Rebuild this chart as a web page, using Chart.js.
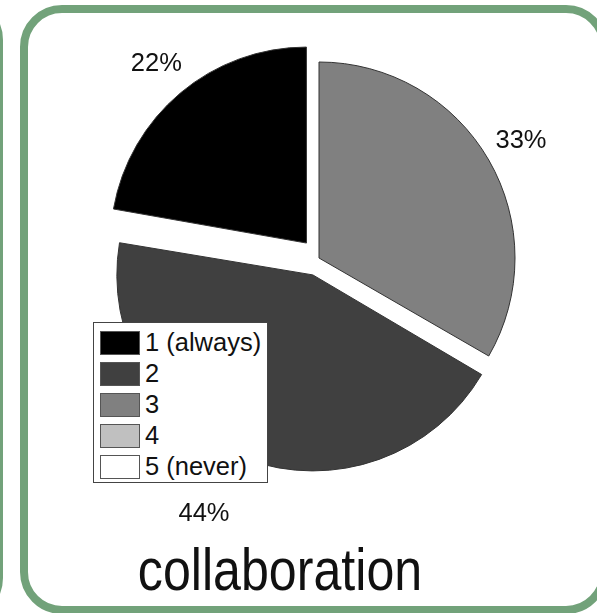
<!DOCTYPE html>
<html>
<head>
<meta charset="utf-8">
<script src="https://cdn.jsdelivr.net/npm/chart.js@4.4.1/dist/chart.umd.min.js"></script>
<style>
  html, body { margin: 0; padding: 0; background: #fff; }
  body { width: 597px; height: 613px; position: relative; overflow: hidden;
         font-family: "Liberation Sans", Arial, sans-serif; }
  .frame { position: absolute; box-sizing: border-box; border: 8px solid #72a27a;
           border-radius: 42px; background: #fff; }
  #mainFrame { left: 20px; top: 5px; width: 588px; height: 609px; }
  #sideFrame { left: -400px; top: -2px; width: 403px; height: 622px; border-width: 4px; }
  #myChart { position: absolute; left: 0; top: 0; }
  #legend { position: absolute; left: 93px; top: 322px; width: 175px; height: 161px;
            box-sizing: border-box; border: 1px solid #444; background: #fff;
            padding: 4px 0 0 6px; }
  .row { height: 31px; display: flex; align-items: center; font-size: 25.5px; color: #111; }
  .swatch { width: 38px; height: 22px; border: 1px solid #555; margin-right: 5px; flex: none; }
  #title { position: absolute; left: 0; width: 560px; top: 541px; text-align: center;
           font-size: 59px; line-height: 59px; color: #111;
           transform: scaleX(0.85); transform-origin: 280px 0; }
</style>
</head>
<body>
<div class="frame" id="sideFrame"></div>
<div class="frame" id="mainFrame"></div>
<canvas id="myChart" width="597" height="613"></canvas>
<div id="legend"></div>
<div id="title">collaboration</div>
<script>
// answers to "collaboration", 1 = always ... 5 = never
const labels = ["1 (always)", "2", "3", "4", "5 (never)"];
const percents = [22, 44, 33, 0, 0];
const colors = ["#000000", "#404040", "#808080", "#c0c0c0", "#ffffff"];
const explode = [78, 72, 0, 0, 0]; // pulled-out slices

// legend (html, overlaps the pie like the original)
const legendEl = document.getElementById("legend");
labels.forEach((lab, i) => {
  const row = document.createElement("div");
  row.className = "row";
  row.innerHTML = '<div class="swatch" style="background:' + colors[i] + '"></div>' + lab;
  legendEl.appendChild(row);
});

// pie goes clockwise from the top as 3, 2, 1 -> draw in reverse order
const order = labels.map((_, i) => i).reverse();

const RADIUS = 196;

// Chart.js grows big offset slices; keep all slices on the same radius
const keepRadius = {
  id: "keepRadius",
  beforeDatasetsDraw(chart) {
    const meta = chart.getDatasetMeta(0);
    meta.data.forEach(arc => {
      const off = (arc.options.offset || 0) / 4;
      const fix = 1 - Math.sin(Math.min(Math.PI, arc.circumference || 0));
      arc.outerRadius = RADIUS - off * fix;
    });
  }
};

// percent labels outside each slice
const pctLabels = {
  id: "pctLabels",
  afterDatasetsDraw(chart, args, opts) {
    const ctx = chart.ctx;
    const meta = chart.getDatasetMeta(0);
    const data = chart.data.datasets[0].data;
    ctx.save();
    ctx.font = "25.5px 'Liberation Sans', Arial, sans-serif";
    ctx.fillStyle = "#111";
    ctx.textAlign = "center";
    ctx.textBaseline = "middle";
    meta.data.forEach((arc, i) => {
      if (!data[i]) return;
      const mid = (arc.startAngle + arc.endAngle) / 2;
      const off = (arc.options.offset || 0) / 4;
      const fix = 1 - Math.sin(Math.min(Math.PI, arc.circumference));
      const t = off * (1 + fix);
      const cx = arc.x + Math.cos(mid) * t;
      const cy = arc.y + Math.sin(mid) * t;
      const r = RADIUS * opts.factor;
      const nudge = opts.nudge[chart.data.labels[i]] || [0, 0];
      ctx.fillText(data[i] + "%", cx + Math.cos(mid) * r + nudge[0], cy + Math.sin(mid) * r + nudge[1]);
    });
    ctx.restore();
  }
};

const ctx = document.getElementById("myChart").getContext("2d");
new Chart(ctx, {
  type: "pie",
  data: {
    labels: order.map(i => labels[i]),
    datasets: [{
      data: order.map(i => percents[i]),
      backgroundColor: order.map(i => colors[i]),
      offset: order.map(i => explode[i]),
      borderColor: "#333",
      borderWidth: 1,
      radius: RADIUS
    }]
  },
  options: {
    responsive: false,
    animation: false,
    events: [],
    layout: { padding: { left: 41, right: 0, top: 0, bottom: 97 } },
    plugins: {
      legend: { display: false },
      tooltip: { enabled: false },
      pctLabels: { factor: 1.19, nudge: { "2": [-25, 9] } }
    }
  },
  plugins: [keepRadius, pctLabels]
});
</script>
</body>
</html>
